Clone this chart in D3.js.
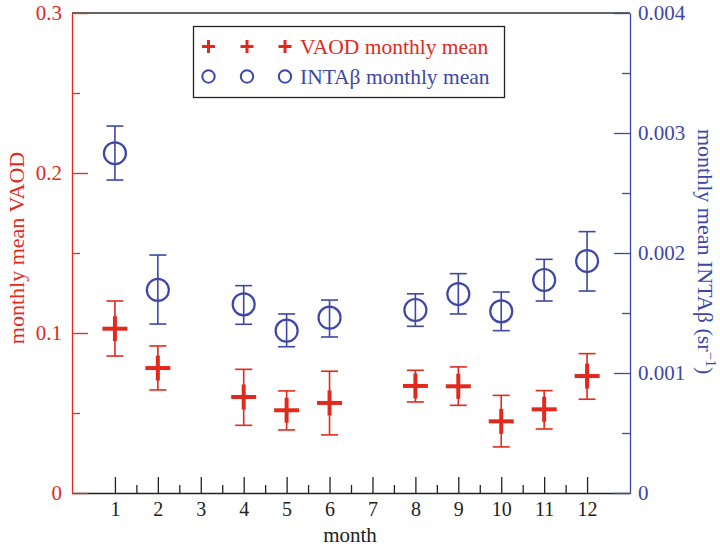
<!DOCTYPE html>
<html><head><meta charset="utf-8">
<script src="https://cdn.jsdelivr.net/npm/d3@7"></script>
<style>html,body{margin:0;padding:0;background:#fff}svg{display:block}svg text{font-family:'Liberation Serif';}</style>
</head><body>
<script>
const months = [1, 2, 4, 5, 6, 8, 9, 10, 11, 12];
const vaod   = [0.1027, 0.0781, 0.0600, 0.0517, 0.0563, 0.0669, 0.0667, 0.0448, 0.0523, 0.0731];
const vaodHi = [0.1200, 0.0919, 0.0773, 0.0638, 0.0761, 0.0767, 0.0788, 0.0610, 0.0640, 0.0871];
const vaodLo = [0.0856, 0.0644, 0.0423, 0.0394, 0.0363, 0.0569, 0.0548, 0.0288, 0.0400, 0.0586];
const inta   = [0.002831, 0.001692, 0.001572, 0.001353, 0.001461, 0.001525, 0.001658, 0.001514, 0.001775, 0.001933];
const intaHi = [0.003058, 0.001983, 0.001728, 0.001492, 0.001608, 0.001660, 0.001828, 0.001675, 0.001947, 0.002178];
const intaLo = [0.002608, 0.001408, 0.001406, 0.001219, 0.001300, 0.001389, 0.001492, 0.001353, 0.001600, 0.001683];
const monthTicks = [1, 2, 3, 4, 5, 6, 7, 8, 9, 10, 11, 12];
const leftTicks = [0, 0.1, 0.2, 0.3];
const rightTicks = [0, 0.001, 0.002, 0.003, 0.004];

const W = 720, H = 548;
const L = 72, R = 630, T = 13, B = 493;
const RED = "#e2291d", BLUE = "#3e47a6";
const FONT = "'Liberation Serif'";

const svg = d3.select("body").append("svg").attr("width", W).attr("height", H);

const x = d3.scaleLinear().domain([0, 13]).range([L, R]);
const yL = d3.scaleLinear().domain([0, 0.3]).range([B, T]);
const yR = d3.scaleLinear().domain([0, 0.004]).range([B, T]);

function styleAxis(g, color, size) {
  g.attr("font-family", null).attr("font-size", null);
  g.select(".domain").attr("stroke", color).attr("stroke-width", 1.3);
  g.selectAll(".tick line").attr("stroke", color).attr("stroke-width", 1.3);
  g.selectAll(".tick text").attr("fill", color).style("font-family", FONT).style("font-size", size + "px");
}

// top frame line
svg.append("line").attr("x1", L).attr("x2", R).attr("y1", T).attr("y2", T)
  .attr("stroke", "#333").attr("stroke-width", 1.3);

// bottom axis
const gx = svg.append("g").attr("transform", `translate(0,${B})`);
gx.call(d3.axisBottom(x).tickValues(monthTicks).tickSizeInner(-16).tickSizeOuter(0).tickPadding(9).tickFormat(d3.format("d")));
const gxm = svg.append("g").attr("transform", `translate(0,${B})`);
gxm.call(d3.axisBottom(x).tickValues(d3.range(1.5, 12, 1)).tickSizeInner(-8).tickSizeOuter(0).tickFormat(""));
gxm.select(".domain").remove();
styleAxis(gx, "#222", 20); styleAxis(gxm, "#222", 20);

// left axis
const gl = svg.append("g").attr("transform", `translate(${L},0)`);
gl.call(d3.axisLeft(yL).tickValues(leftTicks).tickSizeInner(-16).tickSizeOuter(0).tickPadding(10).tickFormat(d3.format("")));
const glm = svg.append("g").attr("transform", `translate(${L},0)`);
glm.call(d3.axisLeft(yL).tickValues([0.05, 0.15, 0.25]).tickSizeInner(-8).tickSizeOuter(0).tickFormat(""));
glm.select(".domain").remove();
styleAxis(gl, RED, 21); styleAxis(glm, RED, 21);

// right axis
const gr = svg.append("g").attr("transform", `translate(${R},0)`);
gr.call(d3.axisRight(yR).tickValues(rightTicks).tickSizeInner(-16).tickSizeOuter(0).tickPadding(8).tickFormat(d3.format("")));
const grm = svg.append("g").attr("transform", `translate(${R},0)`);
grm.call(d3.axisRight(yR).tickValues([0.0005, 0.0015, 0.0025, 0.0035]).tickSizeInner(-8).tickSizeOuter(0).tickFormat(""));
grm.select(".domain").remove();
styleAxis(gr, BLUE, 21); styleAxis(grm, BLUE, 21);

// axis titles
svg.append("text").attr("x", (L + R) / 2 - 1).attr("y", 542).attr("text-anchor", "middle")
  .attr("fill", "#222").style("font-family", FONT).style("font-size", "21px").text("month");
svg.append("text").attr("transform", `translate(24,248) rotate(-90)`)
  .attr("text-anchor", "middle").attr("fill", RED).style("font-family", FONT).style("font-size", "22px").text("monthly mean VAOD");
const rt = svg.append("text").attr("transform", `translate(698,129) rotate(90)`)
  .attr("text-anchor", "start").attr("fill", BLUE).style("font-family", FONT).style("font-size", "22px");
rt.append("tspan").text("monthly mean INTAβ (sr");
rt.append("tspan").attr("dy", -8).style("font-size", "14.5px").text("−1");
rt.append("tspan").attr("dy", 8).text(")");

// data
const dv = months.map((m, i) => ({ m, v: vaod[i], hi: vaodHi[i], lo: vaodLo[i] }));
const di = months.map((m, i) => ({ m, v: inta[i], hi: intaHi[i], lo: intaLo[i] }));
const CAP = 8.5;

function errorBars(data, y, color) {
  const g = svg.append("g").attr("stroke", color).attr("stroke-width", 1.6).attr("fill", "none");
  g.selectAll(".v").data(data).join("line")
    .attr("x1", d => x(d.m)).attr("x2", d => x(d.m)).attr("y1", d => y(d.hi)).attr("y2", d => y(d.lo));
  g.selectAll(".t").data(data).join("line")
    .attr("x1", d => x(d.m) - CAP).attr("x2", d => x(d.m) + CAP).attr("y1", d => y(d.hi)).attr("y2", d => y(d.hi));
  g.selectAll(".b").data(data).join("line")
    .attr("x1", d => x(d.m) - CAP).attr("x2", d => x(d.m) + CAP).attr("y1", d => y(d.lo)).attr("y2", d => y(d.lo));
}
errorBars(di, yR, BLUE);
errorBars(dv, yL, RED);

// blue circles
svg.append("g").selectAll("circle").data(di).join("circle")
  .attr("cx", d => x(d.m)).attr("cy", d => yR(d.v)).attr("r", 11)
  .attr("fill", "none").attr("stroke", BLUE).attr("stroke-width", 2.2);

// red plus
const P = 12.5;
const gp = svg.append("g").attr("stroke", RED).attr("stroke-width", 4);
gp.selectAll(".h").data(dv).join("line")
  .attr("x1", d => x(d.m) - P).attr("x2", d => x(d.m) + P).attr("y1", d => yL(d.v)).attr("y2", d => yL(d.v));
gp.selectAll(".vv").data(dv).join("line")
  .attr("x1", d => x(d.m)).attr("x2", d => x(d.m)).attr("y1", d => yL(d.v) - P).attr("y2", d => yL(d.v) + P);

// legend
const lg = svg.append("g");
lg.append("rect").attr("x", 193.5).attr("y", 26.5).attr("width", 311).attr("height", 71)
  .attr("fill", "#fff").attr("stroke", "#222").attr("stroke-width", 1.3);
const lx = [208.5, 247, 285];
const lp = 6.5;
lx.forEach(cx => {
  lg.append("line").attr("x1", cx - lp).attr("x2", cx + lp).attr("y1", 46.5).attr("y2", 46.5).attr("stroke", RED).attr("stroke-width", 3);
  lg.append("line").attr("x1", cx).attr("x2", cx).attr("y1", 46.5 - lp).attr("y2", 46.5 + lp).attr("stroke", RED).attr("stroke-width", 3);
  lg.append("circle").attr("cx", cx).attr("cy", 76.5).attr("r", 6.2).attr("fill", "none").attr("stroke", BLUE).attr("stroke-width", 2);
});
lg.append("text").attr("x", 300).attr("y", 54).attr("fill", RED).style("font-family", FONT).style("font-size", "21.5px").text("VAOD monthly mean");
lg.append("text").attr("x", 300).attr("y", 84).attr("fill", BLUE).style("font-family", FONT).style("font-size", "21.5px").text("INTAβ monthly mean");
</script>
</body></html>
